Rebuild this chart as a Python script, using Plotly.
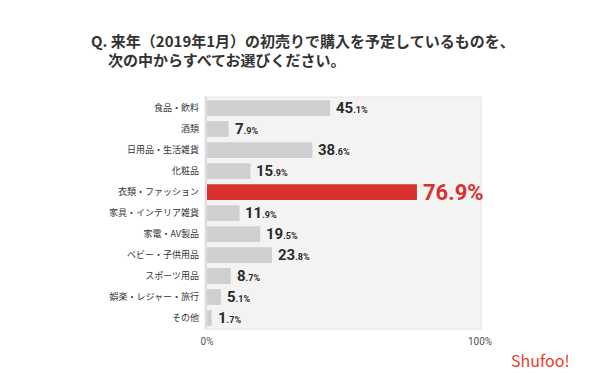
import plotly.graph_objects as go

categories = ["食品・飲料", "酒類", "日用品・生活雑貨", "化粧品", "衣類・ファッション",
              "家具・インテリア雑貨", "家電・AV製品", "ベビー・子供用品", "スポーツ用品",
              "娯楽・レジャー・旅行", "その他"]
values = [45.1, 7.9, 38.6, 15.9, 76.9, 11.9, 19.5, 23.8, 8.7, 5.1, 1.7]
highlight = "衣類・ファッション"
x_ticks = [0, 100]
x_ticklabels = ["0%", "100%"]

GRAY = "#cfcfcf"
RED = "#d93030"
NUMFONT = "Roboto, sans-serif"

# page body has an 8px margin; work in screen coords and convert
OFF = 8
W, H = 600 - OFF, 392 - OFF
SL, SR, ST, SB = 207, 480, 97, 329  # plot area in screen px
L, T = SL - OFF, ST - OFF
R = W - (SR - OFF)
B = H - (SB - OFF)
pw, ph = W - L - R, H - T - B


def px(x):
    return (x - OFF - L) / pw


def py(y):
    return 1 - (y - OFF - T) / ph


colors = [RED if c == highlight else GRAY for c in categories]

fig = go.Figure()
fig.add_trace(go.Bar(
    x=values, y=categories, orientation="h",
    marker=dict(color=colors, line=dict(width=0)),
    hoverinfo="skip",
))

for c, v in zip(categories, values):
    ip, dp = f"{v:.1f}".split(".")
    if c == highlight:
        txt = f"<b>{ip}.{dp}%</b>"
        fnt = dict(family=NUMFONT, size=22, color=RED)
    else:
        txt = f"<b>{ip}<span style='font-size:9px'>.{dp}%</span></b>"
        fnt = dict(family=NUMFONT, size=15, color="#2b2b2b")
    fig.add_annotation(x=v, y=c, xref="x", yref="y", text=txt, showarrow=False,
                       xanchor="left", yanchor="middle", xshift=4, font=fnt)

fig.add_annotation(x=px(89), y=py(40), xref="paper", yref="paper",
                   text="<b>Q. 来年（2019年1月）の初売りで購入を予定しているものを、</b>",
                   showarrow=False, xanchor="left", yanchor="middle",
                   font=dict(family="Noto Sans CJK JP", size=15, color="#333333"))
fig.add_annotation(x=px(106), y=py(60), xref="paper", yref="paper",
                   text="<b>次の中からすべてお選びください。</b>",
                   showarrow=False, xanchor="left", yanchor="middle",
                   font=dict(family="Noto Sans CJK JP", size=15, color="#333333"))
fig.add_annotation(x=px(540), y=py(360), xref="paper", yref="paper",
                   text="Shufoo!", showarrow=False, xanchor="center", yanchor="middle",
                   font=dict(family="Noto Sans CJK JP", size=16, color="#ee3a2c"))

# plot area frame
fig.add_shape(type="rect", xref="paper", yref="paper", x0=px(205), x1=px(481),
              y0=0, y1=1, line=dict(color="#e4e4e4", width=1), layer="below",
              fillcolor="#f3f3f3")
fig.add_shape(type="line", xref="paper", yref="paper", x0=px(206), x1=px(206),
              y0=0, y1=1, line=dict(color="#d8d8d8", width=1.5), layer="below")
# right edge border of the image
fig.add_shape(type="rect", xref="paper", yref="paper", x0=px(596), x1=px(599),
              y0=py(0), y1=py(391), line=dict(width=0), fillcolor="#6f737a",
              layer="above")

fig.update_layout(
    width=W, height=H,
    margin=dict(l=L, r=R, t=T, b=B),
    paper_bgcolor="white", plot_bgcolor="rgba(0,0,0,0)",
    showlegend=False, bargap=0.25,
    xaxis=dict(range=[0, 100], tickvals=x_ticks, ticktext=x_ticklabels,
               showgrid=False, zeroline=False, showline=False, fixedrange=True,
               ticks="", ticklabelstandoff=5,
               tickfont=dict(family="Roboto, sans-serif", size=10, color="#555555")),
    yaxis=dict(autorange="reversed", showgrid=False, zeroline=False, ticks="",
               ticklabelstandoff=7,
               tickfont=dict(family="Noto Sans CJK JP", size=9, color="#333333")),
)

fig.write_html("out.html")
